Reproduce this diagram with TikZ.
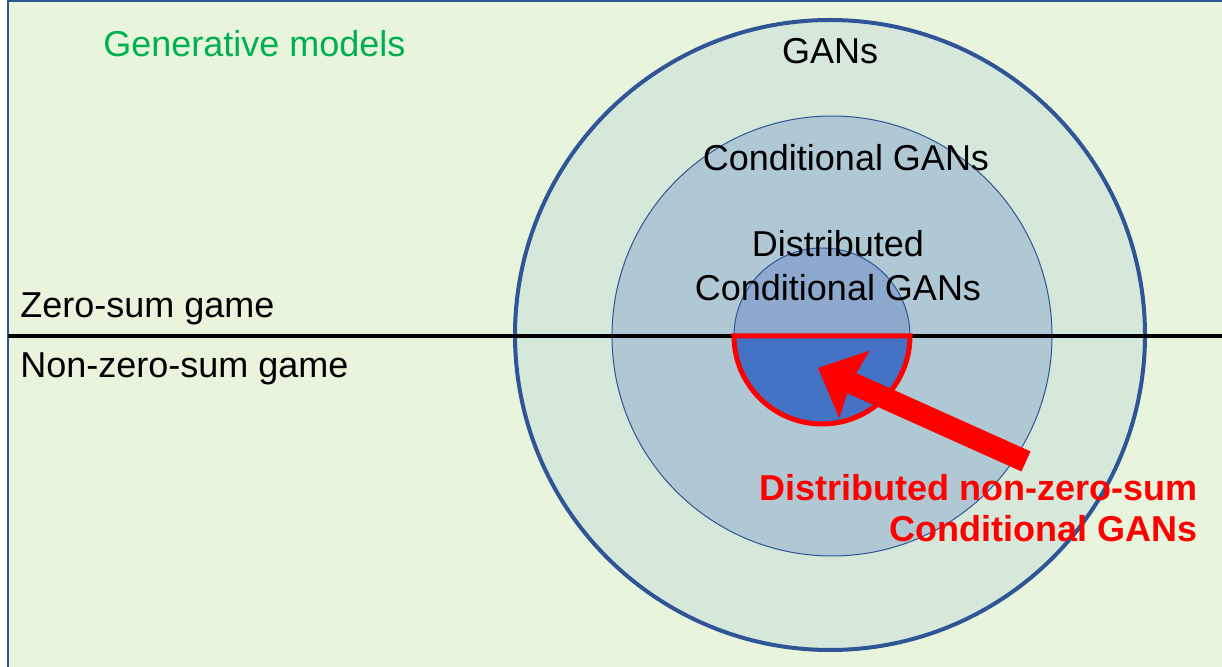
\documentclass[tikz,border=0pt]{standalone}
\usepackage{fontspec}
\setmainfont{Liberation Sans}
\definecolor{bgcol}{HTML}{E8F5DC}
\definecolor{outercol}{HTML}{D5E8DA}
\definecolor{midcol}{HTML}{AFC8D4}
\definecolor{innercol}{HTML}{8EA9CE}
\definecolor{lowcol}{HTML}{4472C4}
\definecolor{edgecol}{HTML}{2F5597}
\definecolor{greentext}{HTML}{00B050}
\definecolor{redcol}{HTML}{FF0000}
\tikzset{
  lbl/.style={font=\fontsize{18}{22}\selectfont, inner sep=0pt, align=center},
  redlbl/.style={font=\fontsize{18}{20.5}\selectfont\bfseries, text=redcol, inner sep=0pt, align=right},
}
\begin{document}
\begin{tikzpicture}[x=0.5pt,y=-0.5pt]
\useasboundingbox (0,0) rectangle (1222,667);
\fill[white] (0,0) rectangle (1222,667);
\fill[bgcol] (8,1) rectangle (1222,667);
\draw[edgecol, line width=0.8pt] (8,667) -- (8,1) -- (1222,1);
% circles
\coordinate (c) at (830,335);
\fill[outercol] (c) circle[radius=315];
\draw[edgecol, line width=2pt] (c) circle[radius=315];
\fill[midcol] (832,336) circle[radius=220];
\draw[edgecol, line width=0.5pt] (832,336) circle[radius=220];
\coordinate (ic) at (822,336);
\fill[innercol] (ic) circle[radius=88];
\draw[edgecol, line width=0.5pt] (ic) circle[radius=88];
\fill[lowcol] (734,336) arc[start angle=180, end angle=0, radius=88] -- cycle;
% divider
\coordinate (l0) at (8,336);
\coordinate (l1) at (1222,336);
\draw[black, line width=2pt] (l0) -- (l1);
\draw[redcol, line width=2.5pt] (734,336) arc[start angle=180, end angle=0, radius=88] -- cycle;
% arrow
\coordinate (as) at (1025,461);
\coordinate (at) at (818,368);
\fill[redcol, shift={(at)}, rotate={-atan2(461-368,1025-818)}]
  (0,0) -- (40,-37) -- (37,-11) -- (228,-11) -- (228,11) -- (37,11) -- (40,37) -- cycle;
% labels
\node[lbl, text=greentext, anchor=west] (gm) at (103,44) {Generative models};
\node[lbl] (gans) at (830,51) {GANs};
\node[lbl] (cgans) at (846,158) {Conditional GANs};
\node[lbl] (dcgans) at (838,266) {Distributed\\Conditional GANs};
\node[lbl, anchor=west] (zs) at (20,309) {Zero-sum game};
\node[lbl, anchor=west] (nzs) at (20,369) {Non-zero-sum game};
\node[redlbl, anchor=east] (red) at (1198,508) {Distributed non-zero-sum\\Conditional GANs};
\end{tikzpicture}
\end{document}
